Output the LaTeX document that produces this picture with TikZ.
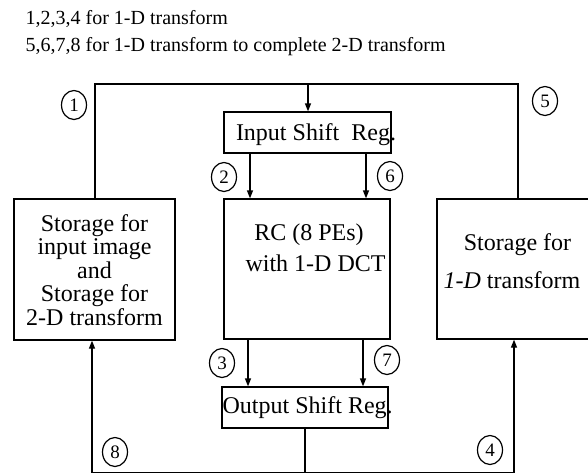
\documentclass[tikz,border=0pt]{standalone}
\usepackage{fontspec}
\setmainfont{Liberation Serif}
\usetikzlibrary{arrows.meta,shapes.geometric}
\begin{document}
\begin{tikzpicture}[x=1pt,y=-1pt,line width=1.3pt,
  blk/.style={draw,rectangle,inner sep=0pt},
  lbl/.style={draw,ellipse,minimum width=25pt,minimum height=29pt,inner sep=0pt,font=\fontsize{19}{19}\selectfont,line width=1.2pt},
  txt/.style={inner sep=0pt,font=\fontsize{24}{24}\selectfont},
  hdr/.style={anchor=west,inner sep=0pt,font=\fontsize{20}{20}\selectfont},
  arr/.style={-{Triangle[length=8pt,width=6pt]}}]
\useasboundingbox (0,0) rectangle (588,474);
\clip (0,0) rectangle (588,474);
% header
\node[hdr] (h1) at (25,19) {1,2,3,4 for 1-D transform};
\node[hdr] (h2) at (25,47) {5,6,7,8 for 1-D transform to complete 2-D transform};
% boxes
\node[blk,minimum width=167pt,minimum height=41pt] (inreg) at (307.5,132.5) {};
\node[txt] (tin) at (316,135) {Input Shift\ \ Reg.};
\node[blk,minimum width=166pt,minimum height=140pt] (rc) at (307,269) {};
\node[txt] (trc1) at (309,235) {RC (8 PEs)};
\node[txt] (trc2) at (315.5,263) {with 1-D DCT};
\node[blk,minimum width=161pt,minimum height=141pt] (left) at (94.5,269.5) {};
\node[txt,align=center,font=\fontsize{24}{23.5}\selectfont] (tleft) at (94.5,270) {Storage for\\input image\\and\\Storage for\\2-D transform};
\node[blk,minimum width=200pt,minimum height=140pt] (right) at (537,269) {};
\node[txt] (tr1) at (517.5,245) {Storage for};
\node[txt,anchor=west] (tr2) at (443,280) {\textit{1-D} transform};
\node[blk,minimum width=166pt,minimum height=41pt] (outreg) at (305,407.5) {};
\node[txt,anchor=west] (tout) at (222,408) {Output Shift Reg.};
% labels
\node[lbl] (c1) at (74,105) {1};
\node[lbl] (c2) at (224,177) {2};
\node[lbl] (c6) at (390,176) {6};
\node[lbl] (c5) at (545,101) {5};
\node[lbl] (c3) at (222,363) {3};
\node[lbl] (c7) at (387,360) {7};
\node[lbl] (c8) at (115,452) {8};
\node[lbl] (c4) at (490,450) {4};
% connectors
\coordinate (tl) at (95,84);
\coordinate (trt) at (518,84);
\coordinate (tdn) at (308,84);
\draw (left.north -| tl) -- (tl) -- (trt) -- (trt |- right.north);
\draw[arr] (tdn) -- (tdn |- inreg.north);
\coordinate (x2) at (250,0);
\coordinate (x6) at (366,0);
\coordinate (x3) at (248,0);
\coordinate (x7) at (363,0);
\draw[arr] (x2 |- inreg.south) -- (x2 |- rc.north);
\draw[arr] (x6 |- inreg.south) -- (x6 |- rc.north);
\draw[arr] (x3 |- rc.south) -- (x3 |- outreg.north);
\draw[arr] (x7 |- rc.south) -- (x7 |- outreg.north);
\coordinate (bl) at (92,472.5);
\coordinate (br) at (514,472.5);
\draw (outreg.south) -- (outreg.south |- bl);
\draw (bl) -- (br);
\draw[arr] (bl) -- (bl |- left.south);
\draw[arr] (br) -- (br |- right.south);
\end{tikzpicture}
\end{document}
